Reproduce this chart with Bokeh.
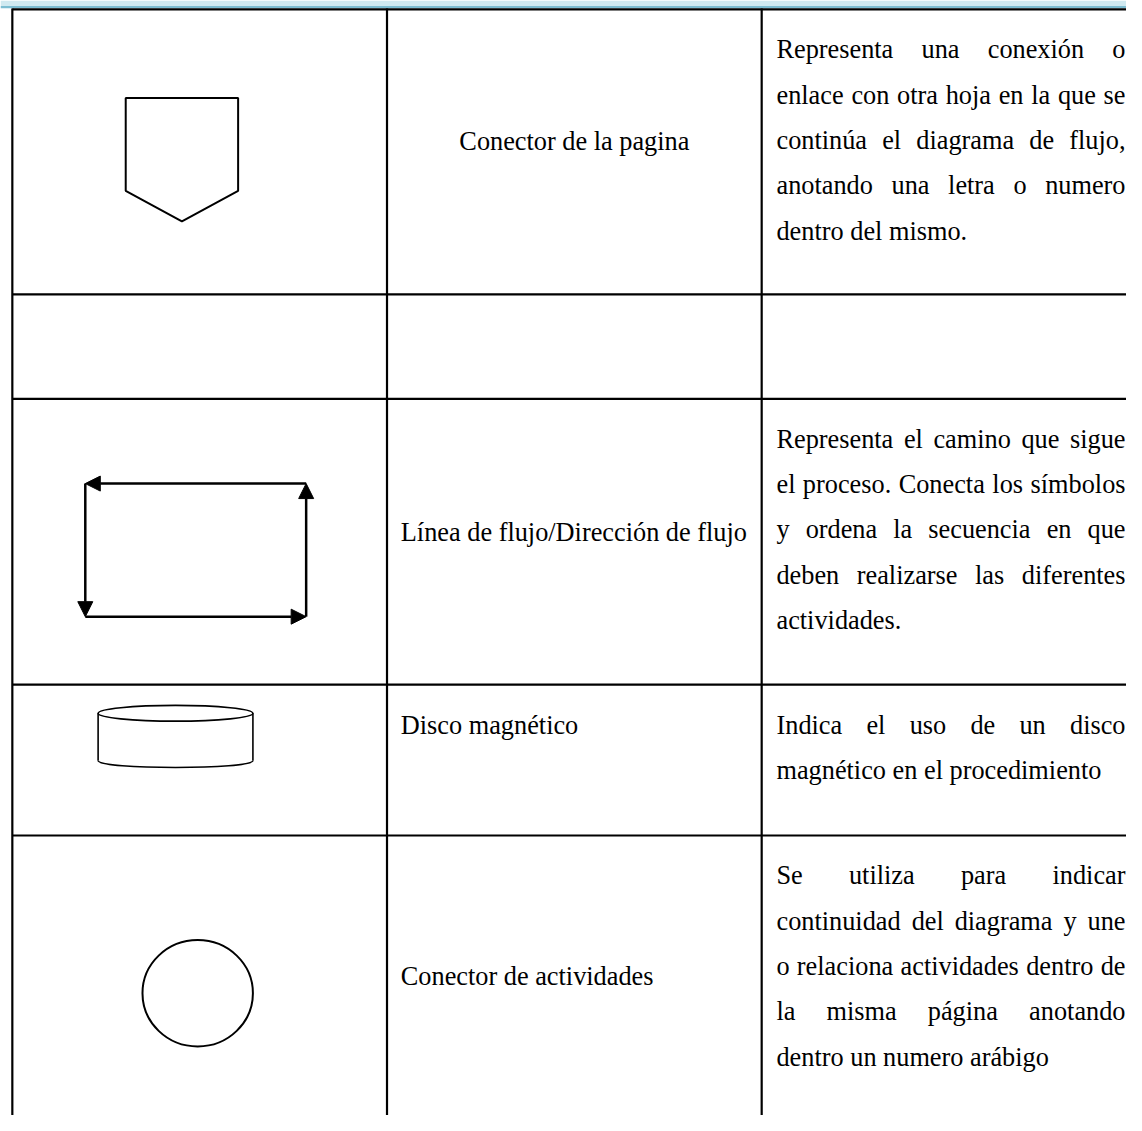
from bokeh.plotting import figure
from bokeh.models import Range1d, ColumnDataSource, Arrow, NormalHead
from bokeh.embed import file_html
from bokeh.resources import INLINE
from bokeh.core.properties import value

# ---------------- table content ----------------
symbol_names = ["Conector de la pagina", "", "Línea de flujo/Dirección de flujo",
                "Disco magnético", "Conector de actividades"]
name_align = ["center", "left", "left", "left", "left"]
name_baseline = [143, 0, 540, 735, 990]

descriptions = [
    ["Representa una conexión o", "enlace con otra hoja en la que se",
     "continúa el diagrama de flujo,", "anotando una letra o numero", "dentro del mismo."],
    [],
    ["Representa el camino que sigue", "el proceso. Conecta los símbolos",
     "y ordena la secuencia en que", "deben realizarse las diferentes", "actividades."],
    ["Indica el uso de un disco", "magnético en el procedimiento"],
    ["Se utiliza para indicar", "continuidad del diagrama y une",
     "o relaciona actividades dentro de", "la misma página anotando", "dentro un numero arábigo"],
]

# table grid (reference pixel coordinates)
row_edges = [9, 298, 404, 694, 847, 1131]
col_edges = [12, 392, 772, 1142]

# symbol drawings
pentagon_x = [127, 241, 241, 184, 127]
pentagon_y = [99, 99, 193, 224, 193]

flow_x0 = [310, 86, 86, 310]
flow_y0 = [490, 490, 625, 625]
flow_x1 = [86, 86, 310, 310]
flow_y1 = [490, 625, 625, 490]

disk_left, disk_right = 99, 256
disk_top, disk_bottom = 723, 771
disk_cap_h, disk_base_h = 16, 7

circle_cx, circle_cy, circle_w, circle_h = 200, 1007, 112, 108

# ---------------- layout ----------------
X0, X1 = 0, 1142
Y0, Y1 = 0, 1131
PW, PH = 1126, 1115
SCALE = (PW / (X1 - X0) + PH / (Y1 - Y0)) / 2
FONT_REF = 26.7
FONT_PX = "%.1fpx" % (FONT_REF * SCALE)
FONT = value("Liberation Serif")
DESC_L, DESC_R = 787, 1141
FIRST_BASE, LINE_STEP = 41, 46
NAME_LEFT_X = 406

TNR = {' ': 250, 'a': 444, 'b': 500, 'c': 444, 'd': 500, 'e': 444, 'f': 333, 'g': 500,
       'h': 500, 'i': 278, 'j': 278, 'k': 500, 'l': 278, 'm': 778, 'n': 500, 'o': 500,
       'p': 500, 'q': 500, 'r': 333, 's': 389, 't': 278, 'u': 500, 'v': 500, 'w': 722,
       'x': 500, 'y': 500, 'z': 444, 'A': 722, 'C': 667, 'D': 722, 'I': 333, 'L': 611,
       'R': 667, 'S': 556, '.': 250, ',': 250, '/': 278, 'á': 444, 'é': 444, 'í': 278,
       'ó': 500, 'ú': 500}


def wwidth(s):
    return sum(TNR.get(ch, 500) for ch in s) / 1000.0 * FONT_REF


p = figure(width=PW, height=PH, x_range=Range1d(X0, X1), y_range=Range1d(Y1, Y0),
           output_backend="svg", toolbar_location=None, min_border=0,
           x_axis_type=None, y_axis_type=None)
p.grid.visible = False
p.outline_line_color = None
p.background_fill_color = "white"
p.border_fill_color = "white"

# top band
p.quad(left=[X0], right=[X1], top=[0], bottom=[5.5], fill_color="#d0e9f0", line_color=None)
p.quad(left=[X0], right=[X1], top=[5.5], bottom=[7.8], fill_color="#7dbdd1", line_color=None)

# grid lines
hx0 = [col_edges[0]] * (len(row_edges) - 1)
hx1 = [col_edges[-1]] * (len(row_edges) - 1)
p.segment(x0=hx0, y0=row_edges[:-1], x1=hx1, y1=row_edges[:-1], line_color="black", line_width=2.2)
vy0 = [row_edges[0] - 1] * (len(col_edges) - 1)
vy1 = [row_edges[-1]] * (len(col_edges) - 1)
p.segment(x0=col_edges[:-1], y0=vy0, x1=col_edges[:-1], y1=vy1, line_color="black", line_width=2.2)

# pentagon (off-page connector)
p.patch(pentagon_x, pentagon_y, fill_color="white", line_color="black", line_width=2)

# flow lines
for i in range(len(flow_x0)):
    p.add_layout(Arrow(end=NormalHead(size=15, fill_color="black", line_color="black"),
                       x_start=flow_x0[i], y_start=flow_y0[i], x_end=flow_x1[i], y_end=flow_y1[i],
                       line_color="black", line_width=2.5))

# magnetic disk (cylinder)
dcx = (disk_left + disk_right) / 2
dw = disk_right - disk_left
p.segment(x0=[disk_left, disk_right], y0=[disk_top, disk_top], x1=[disk_left, disk_right],
          y1=[disk_bottom, disk_bottom], line_color="black", line_width=1.6)
k = disk_base_h * 4.0 / 3.0
p.bezier(x0=[disk_left], y0=[disk_bottom], x1=[disk_right], y1=[disk_bottom],
         cx0=[disk_left], cy0=[disk_bottom + k], cx1=[disk_right], cy1=[disk_bottom + k],
         line_color="black", line_width=1.6)
p.ellipse(x=[dcx], y=[disk_top], width=[dw], height=[disk_cap_h], fill_color="white",
          line_color="black", line_width=1.6)

# circle connector
p.ellipse(x=[circle_cx], y=[circle_cy], width=[circle_w], height=[circle_h], fill_color="white",
          line_color="black", line_width=2)

# symbol names (column 2)
cl = dict(x=[], y=[], t=[])
cc = dict(x=[], y=[], t=[])
for i, name in enumerate(symbol_names):
    if not name:
        continue
    if name_align[i] == "center":
        cc["x"].append((col_edges[1] + col_edges[2]) / 2)
        cc["y"].append(name_baseline[i])
        cc["t"].append(name)
    else:
        cl["x"].append(NAME_LEFT_X)
        cl["y"].append(name_baseline[i])
        cl["t"].append(name)

# descriptions (column 3), justified
dl = dict(x=[], y=[], t=[])
dr = dict(x=[], y=[], t=[])
for r, lines in enumerate(descriptions):
    for j, line in enumerate(lines):
        yb = row_edges[r] + FIRST_BASE + j * LINE_STEP
        words = line.split(" ")
        last = (j == len(lines) - 1)
        if last or len(words) == 1:
            dl["x"].append(DESC_L)
            dl["y"].append(yb)
            dl["t"].append(line)
            continue
        ws = [wwidth(w) for w in words]
        gap = (DESC_R - DESC_L - sum(ws)) / (len(words) - 1)
        xpos = DESC_L
        for n, w in enumerate(words):
            if n == len(words) - 1:
                dr["x"].append(DESC_R)
                dr["y"].append(yb)
                dr["t"].append(w)
            else:
                dl["x"].append(xpos)
                dl["y"].append(yb)
                dl["t"].append(w)
            xpos += ws[n] + gap

for src, align in ((cl, "left"), (cc, "center"), (dl, "left"), (dr, "right")):
    p.text(x="x", y="y", text="t", source=ColumnDataSource(src), text_font=FONT,
           text_font_size=FONT_PX, text_color="#000000", text_align=align,
           text_baseline="alphabetic")

open("out.html", "w").write(file_html(p, INLINE))
